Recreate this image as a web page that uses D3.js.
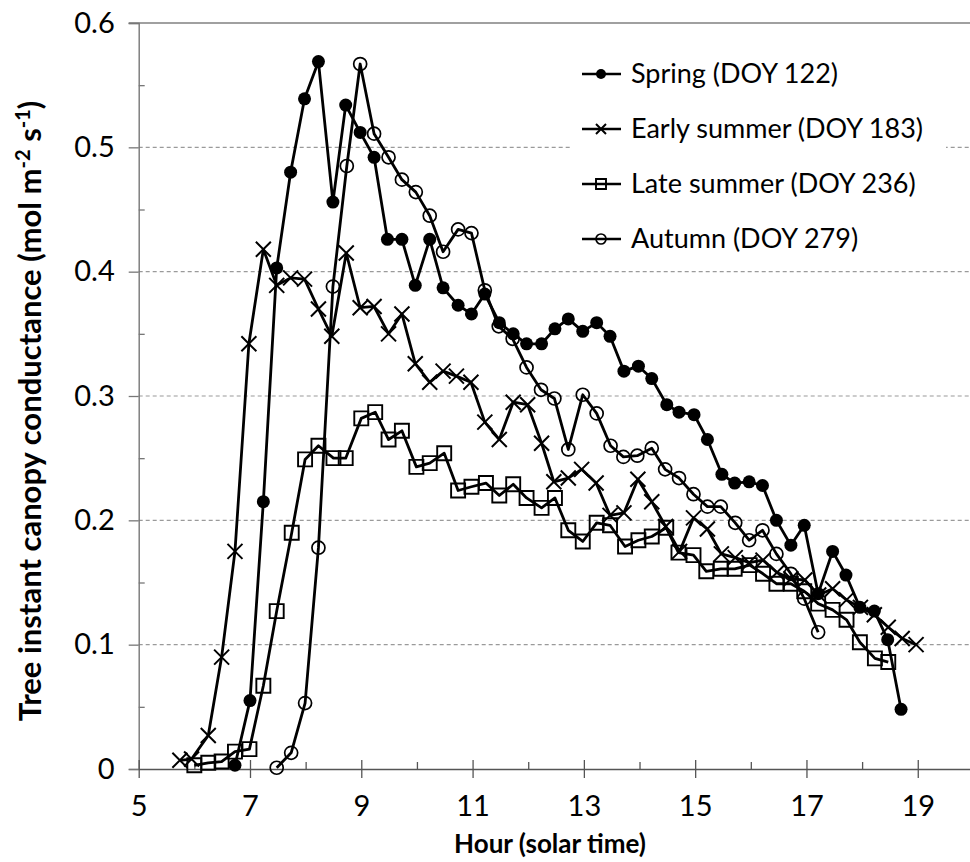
<!DOCTYPE html>
<html>
<head>
<meta charset="utf-8">
<script src="https://cdn.jsdelivr.net/npm/d3@7/dist/d3.min.js"></script>
<style>
  html, body { margin: 0; padding: 0; background: #fff; }
  svg { display: block; font-family: Lato, "Noto Sans", sans-serif; }
</style>
</head>
<body>
<svg id="chart" width="970" height="862"></svg>
<script>
// Hourly course of tree instant canopy conductance on four days of the year
const springHours = [6.73, 7.00, 7.24, 7.48, 7.73, 7.98, 8.23, 8.49, 8.72, 8.98, 9.23, 9.47, 9.73, 9.97, 10.23, 10.47, 10.74, 10.98, 11.22, 11.48, 11.73, 11.97, 12.24, 12.48, 12.72, 12.98, 13.23, 13.47, 13.72, 13.98, 14.22, 14.49, 14.71, 14.98, 15.22, 15.48, 15.71, 15.97, 16.21, 16.46, 16.72, 16.96, 17.21, 17.47, 17.71, 17.96, 18.22, 18.46, 18.70];
const springValues = [0.003, 0.055, 0.215, 0.403, 0.480, 0.539, 0.569, 0.456, 0.534, 0.512, 0.492, 0.426, 0.426, 0.389, 0.426, 0.387, 0.373, 0.366, 0.382, 0.359, 0.350, 0.342, 0.342, 0.354, 0.362, 0.352, 0.359, 0.348, 0.320, 0.324, 0.314, 0.293, 0.287, 0.285, 0.265, 0.237, 0.230, 0.231, 0.228, 0.200, 0.180, 0.196, 0.141, 0.175, 0.156, 0.130, 0.127, 0.104, 0.048];

const earlySummerHours = [5.74, 5.95, 6.25, 6.49, 6.73, 6.98, 7.24, 7.48, 7.73, 7.98, 8.23, 8.47, 8.73, 8.98, 9.23, 9.49, 9.73, 9.97, 10.23, 10.47, 10.71, 10.97, 11.22, 11.48, 11.73, 11.99, 12.24, 12.46, 12.72, 12.96, 13.22, 13.47, 13.72, 13.97, 14.22, 14.47, 14.72, 14.97, 15.22, 15.47, 15.72, 15.97, 16.22, 16.47, 16.72, 16.97, 17.22, 17.47, 17.72, 17.97, 18.22, 18.47, 18.72, 18.97];
const earlySummerValues = [0.007, 0.008, 0.027, 0.090, 0.175, 0.342, 0.418, 0.389, 0.395, 0.394, 0.370, 0.348, 0.415, 0.371, 0.372, 0.350, 0.366, 0.326, 0.311, 0.320, 0.316, 0.311, 0.279, 0.265, 0.295, 0.293, 0.262, 0.231, 0.234, 0.241, 0.230, 0.204, 0.206, 0.233, 0.215, 0.195, 0.175, 0.202, 0.193, 0.173, 0.170, 0.166, 0.168, 0.158, 0.153, 0.152, 0.140, 0.145, 0.136, 0.130, 0.124, 0.114, 0.105, 0.100];

const lateSummerHours = [6.00, 6.25, 6.49, 6.73, 6.99, 7.24, 7.48, 7.75, 7.99, 8.23, 8.50, 8.72, 9.00, 9.25, 9.49, 9.73, 9.99, 10.23, 10.49, 10.74, 10.98, 11.24, 11.48, 11.73, 11.97, 12.24, 12.48, 12.72, 12.98, 13.23, 13.47, 13.74, 13.98, 14.22, 14.48, 14.70, 14.97, 15.20, 15.46, 15.71, 15.98, 16.22, 16.46, 16.72, 16.96, 17.21, 17.47, 17.72, 17.96, 18.23, 18.47];
const lateSummerValues = [0.003, 0.005, 0.006, 0.014, 0.016, 0.067, 0.127, 0.190, 0.249, 0.260, 0.250, 0.250, 0.282, 0.287, 0.265, 0.272, 0.243, 0.246, 0.254, 0.224, 0.227, 0.230, 0.220, 0.229, 0.218, 0.210, 0.218, 0.192, 0.183, 0.198, 0.196, 0.179, 0.184, 0.187, 0.194, 0.174, 0.172, 0.159, 0.161, 0.161, 0.164, 0.157, 0.149, 0.149, 0.143, 0.133, 0.128, 0.120, 0.102, 0.089, 0.086];

const autumnHours = [7.48, 7.74, 7.99, 8.23, 8.49, 8.74, 8.98, 9.23, 9.49, 9.73, 9.98, 10.23, 10.47, 10.74, 10.98, 11.22, 11.47, 11.72, 11.97, 12.23, 12.47, 12.72, 12.98, 13.23, 13.48, 13.71, 13.96, 14.22, 14.46, 14.71, 14.97, 15.22, 15.46, 15.72, 15.97, 16.21, 16.46, 16.72, 16.96, 17.21];
const autumnValues = [0.001, 0.013, 0.053, 0.178, 0.388, 0.485, 0.567, 0.511, 0.492, 0.474, 0.464, 0.445, 0.416, 0.434, 0.431, 0.385, 0.356, 0.346, 0.323, 0.305, 0.298, 0.257, 0.301, 0.286, 0.260, 0.251, 0.252, 0.258, 0.241, 0.234, 0.221, 0.211, 0.211, 0.198, 0.184, 0.192, 0.173, 0.157, 0.137, 0.110];

const seriesNames = ["Spring (DOY 122)", "Early summer (DOY 183)", "Late summer (DOY 236)", "Autumn (DOY 279)"];
const seriesMarkers = ["dot", "cross", "square", "ring"];

const xMajorTicks = [5, 7, 9, 11, 13, 15, 17, 19];
const xMinorTicks = [6, 8, 10, 12, 14, 16, 18, 20];
const yMajorTicks = [0, 0.1, 0.2, 0.3, 0.4, 0.5, 0.6];
const yMinorTicks = [0.05, 0.15, 0.25, 0.35, 0.45, 0.55];
const yTickLabels = ["0", "0.1", "0.2", "0.3", "0.4", "0.5", "0.6"];

(function () {
  const series = [
    { name: seriesNames[0], marker: seriesMarkers[0], hours: springHours, values: springValues },
    { name: seriesNames[1], marker: seriesMarkers[1], hours: earlySummerHours, values: earlySummerValues },
    { name: seriesNames[2], marker: seriesMarkers[2], hours: lateSummerHours, values: lateSummerValues },
    { name: seriesNames[3], marker: seriesMarkers[3], hours: autumnHours, values: autumnValues }
  ].map(s => ({ ...s, points: s.hours.map((h, i) => ({ h, v: s.values[i] })) }));

  const svg = d3.select("#chart");
  const plotLeft = 138.7, plotRight = 973.4, plotTop = 23, plotBottom = 769;

  const x = d3.scaleLinear().domain([5, 20]).range([plotLeft, plotRight]);
  const y = d3.scaleLinear().domain([0, 0.6]).range([plotBottom, plotTop]);

  // dashed horizontal gridlines
  svg.append("g")
    .selectAll("line")
    .data(yMajorTicks.filter(t => t > 0 && t < 0.6))
    .join("line")
    .attr("x1", plotLeft).attr("x2", 970)
    .attr("y1", d => y(d)).attr("y2", d => y(d))
    .attr("stroke", "#9a9a9a").attr("stroke-width", 1.1)
    .attr("stroke-dasharray", "4,3");

  // solid frame line along the top of the plot
  svg.append("line")
    .attr("x1", plotLeft - 10).attr("x2", 970)
    .attr("y1", y(0.6)).attr("y2", y(0.6))
    .attr("stroke", "#808080").attr("stroke-width", 1.6);

  // y axis: outward major ticks, inward minor ticks
  const yAxis = svg.append("g").attr("transform", `translate(${plotLeft},0)`);
  yAxis.call(d3.axisLeft(y).tickValues(yMajorTicks).tickSize(10).tickPadding(14)
    .tickFormat((d, i) => yTickLabels[i]));
  yAxis.select(".domain").attr("stroke", "#777").attr("stroke-width", 1.4);
  yAxis.selectAll(".tick line").attr("stroke", "#777").attr("stroke-width", 1.3);
  yAxis.selectAll(".tick text").attr("font-size", 29).attr("fill", "#000")
    .attr("font-family", "Lato, sans-serif");
  yAxis.append("g").call(d3.axisRight(y).tickValues(yMinorTicks).tickSize(6).tickFormat(""))
    .call(g => g.select(".domain").remove())
    .selectAll(".tick line").attr("stroke", "#777").attr("stroke-width", 1.3);

  // x axis: major ticks crossing the axis, minor ticks inside
  const xAxis = svg.append("g").attr("transform", `translate(0,${plotBottom})`);
  xAxis.call(d3.axisBottom(x).tickValues(xMajorTicks).tickSizeInner(9).tickSizeOuter(0).tickPadding(17)
    .tickFormat(d3.format("d")));
  xAxis.select(".domain").attr("stroke", "#555").attr("stroke-width", 1.4);
  xAxis.selectAll(".tick line").attr("y1", -9).attr("y2", 9).attr("stroke", "#555").attr("stroke-width", 1.3);
  xAxis.selectAll(".tick text").attr("font-size", 29).attr("fill", "#000")
    .attr("font-family", "Lato, sans-serif");
  xAxis.append("g").call(d3.axisTop(x).tickValues(xMinorTicks).tickSize(7).tickFormat(""))
    .call(g => g.select(".domain").remove())
    .selectAll(".tick line").attr("stroke", "#555").attr("stroke-width", 1.3);

  // axis titles
  svg.append("text")
    .attr("x", 550).attr("y", 853)
    .attr("text-anchor", "middle")
    .attr("font-size", 26).attr("font-weight", "bold")
    .text("Hour (solar time)");

  const yTitle = svg.append("text")
    .attr("transform", "translate(41,411) rotate(-90)")
    .attr("text-anchor", "middle")
    .attr("font-size", 31).attr("font-weight", "bold");
  yTitle.append("tspan").text("Tree instant canopy conductance (mol m");
  yTitle.append("tspan").attr("font-size", 20).attr("dy", -11).text("-2");
  yTitle.append("tspan").attr("dy", 11).text(" s");
  yTitle.append("tspan").attr("font-size", 20).attr("dy", -11).text("-1");
  yTitle.append("tspan").attr("dy", 11).text(")");

  // marker drawing helper
  function drawMarker(sel, kind, size) {
    const r = size / 2;
    if (kind === "dot") {
      sel.append("path").attr("d", d3.symbol(d3.symbolCircle, Math.PI * r * r)())
        .attr("fill", "#000");
    } else if (kind === "ring") {
      sel.append("path").attr("d", d3.symbol(d3.symbolCircle, Math.PI * r * r)())
        .attr("fill", "none").attr("stroke", "#000").attr("stroke-width", 1.7);
    } else if (kind === "square") {
      sel.append("path").attr("d", d3.symbol(d3.symbolSquare, size * size)())
        .attr("fill", "none").attr("stroke", "#000").attr("stroke-width", 1.9);
    } else {
      sel.append("path").attr("d", `M${-r},${-r}L${r},${r}M${-r},${r}L${r},${-r}`)
        .attr("fill", "none").attr("stroke", "#000").attr("stroke-width", 2);
    }
  }

  const line = d3.line().x(d => x(d.h)).y(d => y(d.v));
  const markerSize = { dot: 13, ring: 13, square: 14, cross: 15 };

  const plot = svg.append("g");
  series.forEach(s => {
    const g = plot.append("g");
    g.append("path").datum(s.points)
      .attr("d", line)
      .attr("fill", "none").attr("stroke", "#000").attr("stroke-width", 2.8)
      .attr("stroke-linejoin", "round");
    g.selectAll("g.pt").data(s.points).join("g")
      .attr("class", "pt")
      .attr("transform", d => `translate(${x(d.h)},${y(d.v)})`)
      .each(function () { drawMarker(d3.select(this), s.marker, markerSize[s.marker]); });
  });

  // legend on a white panel
  const legend = svg.append("g");
  legend.append("rect").attr("x", 570).attr("y", 50).attr("width", 376).attr("height", 210).attr("fill", "#fff");
  const legendRows = [74, 129, 184, 239];
  const legendMarkerSize = { dot: 10, ring: 10, square: 10, cross: 10 };
  series.forEach((s, i) => {
    const row = legend.append("g").attr("transform", `translate(0,${legendRows[i]})`);
    row.append("line").attr("x1", 582).attr("x2", 621).attr("y1", 0).attr("y2", 0)
      .attr("stroke", "#000").attr("stroke-width", 2.6);
    const m = row.append("g").attr("transform", "translate(601,0)");
    drawMarker(m, s.marker, legendMarkerSize[s.marker]);
    row.append("text").attr("x", 631).attr("y", 9).attr("font-size", 27).text(s.name);
  });
})();
</script>
</body>
</html>
